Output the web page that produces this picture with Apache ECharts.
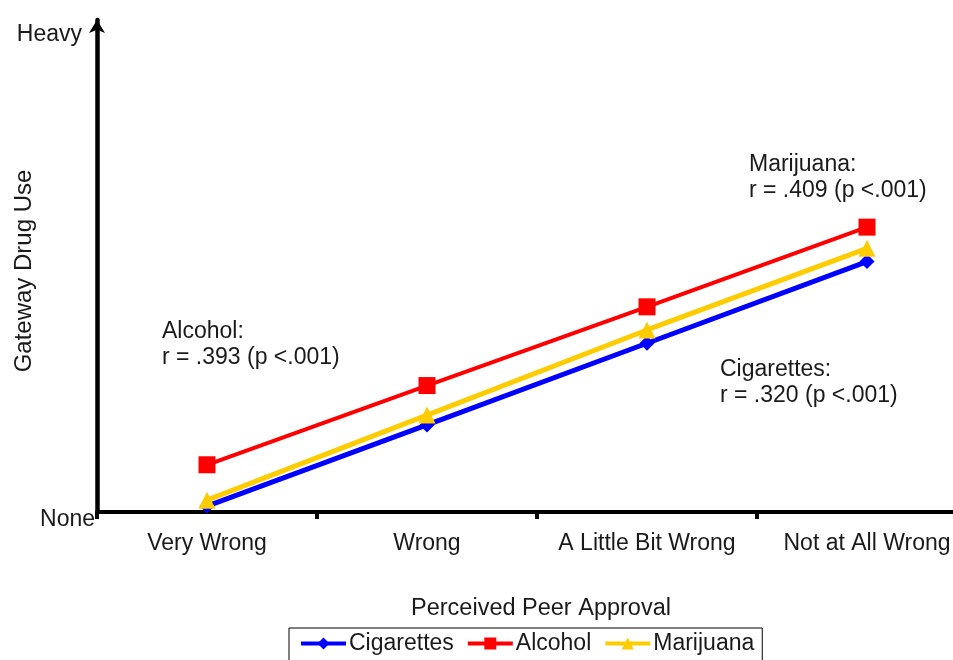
<!DOCTYPE html>
<html>
<head>
<meta charset="utf-8">
<script src="https://cdn.jsdelivr.net/npm/echarts@6/dist/echarts.min.js"></script>
<style>
html,body{margin:0;padding:0;background:#fff;}
#chart{width:953px;height:660px;}
</style>
</head>
<body>
<div id="chart"></div>
<script>
const categories = ['Very Wrong', 'Wrong', 'A Little Bit Wrong', 'Not at All Wrong'];
const cigarettes = [1.2, 17.7, 34.3, 50.9];
const alcohol = [9.6, 25.7, 41.7, 57.9];
const marijuana = [2.4, 19.7, 37.0, 53.6];
const yTickValues = [0, 97.0];
const yTickLabels = ['None', 'Heavy'];
const seriesNames = ['Cigarettes', 'Alcohol', 'Marijuana'];
const annotations = [
  ['Alcohol:', 'r = .393 (p <.001)'],
  ['Marijuana:', 'r = .409 (p <.001)'],
  ['Cigarettes:', 'r = .320 (p <.001)']
];

const FONT = 'Liberation Sans, Arial, sans-serif';
const TXT = '#1a1a1a';
const chart = echarts.init(document.getElementById('chart'));

function annot(i, left, top) {
  return {
    type: 'text', left: left, top: top, z: 100,
    style: { text: annotations[i].join('\n'), font: '23px ' + FONT, fill: TXT, lineHeight: 26 }
  };
}

chart.setOption({
  animation: false,
  backgroundColor: '#fff',
  grid: { left: 97, top: 20, bottom: 148, width: 880, containLabel: false, outerBoundsMode: 'none' },
  xAxis: {
    type: 'category',
    data: categories,
    boundaryGap: true,
    name: 'Perceived Peer Approval',
    nameLocation: 'middle',
    nameGap: 85,
    nameTextStyle: { fontFamily: FONT, fontSize: 23.5, color: TXT, padding: [0, 0, 0, 8] },
    axisLine: { lineStyle: { color: '#000', width: 4 } },
    axisTick: { show: true, length: 7, inside: false, lineStyle: { color: '#000', width: 4 } },
    axisLabel: { fontFamily: FONT, fontSize: 23, color: TXT, margin: 20, interval: 0, hideOverlap: false },
    splitLine: { show: false }
  },
  yAxis: {
    type: 'value',
    min: 0, max: 100,
    name: 'Gateway Drug Use',
    nameLocation: 'middle',
    nameGap: 61,
    nameRotate: 90,
    nameMoveOverlap: false,
    nameTextStyle: { fontFamily: FONT, fontSize: 24, color: TXT, padding: [0, 10, 0, 0] },
    axisLine: { show: true, symbol: ['none', 'arrow'], symbolSize: [12, 13], lineStyle: { color: '#000', width: 4.5 } },
    axisTick: { show: false },
    splitLine: { show: false },
    axisLabel: {
      customValues: yTickValues,
      margin: 2,
      fontFamily: FONT, fontSize: 23, color: TXT,
      formatter: function (v) {
        const i = yTickValues.indexOf(v);
        const t = i >= 0 ? yTickLabels[i] : '';
        return i === 0 ? '{n|' + t + '}' : '{h|' + t + '}';
      },
      rich: {
        n: { fontFamily: FONT, fontSize: 23, color: TXT, padding: [16, 0, 0, 0] },
        h: { fontFamily: FONT, fontSize: 23, color: TXT, padding: [0, 13, 0, 0] }
      }
    }
  },
  legend: {
    data: seriesNames,
    left: 289, top: 628,
    padding: [4, 8, 12, 10],
    itemGap: 12,
    itemWidth: 45, itemHeight: 15,
    borderColor: '#000', borderWidth: 1,
    lineStyle: { width: 4 },
    textStyle: { fontFamily: FONT, fontSize: 23, color: TXT, padding: [0, 0, 0, -2] }
  },
  series: [
    {
      name: seriesNames[0], type: 'line', data: cigarettes,
      symbol: 'diamond', symbolSize: 15,
      lineStyle: { color: '#0000FF', width: 5 },
      itemStyle: { color: '#0000FF' }, z: 2
    },
    {
      name: seriesNames[1], type: 'line', data: alcohol,
      symbol: 'rect', symbolSize: 17,
      lineStyle: { color: '#FF0000', width: 4 },
      itemStyle: { color: '#FF0000' }, z: 3
    },
    {
      name: seriesNames[2], type: 'line', data: marijuana,
      symbol: 'triangle', symbolSize: 17,
      lineStyle: { color: '#FFCC00', width: 5 },
      itemStyle: { color: '#FFCC00' }, z: 4
    }
  ],
  graphic: [
    annot(0, 162, 319),
    annot(1, 749, 152),
    annot(2, 720, 357)
  ]
});
</script>
</body>
</html>
